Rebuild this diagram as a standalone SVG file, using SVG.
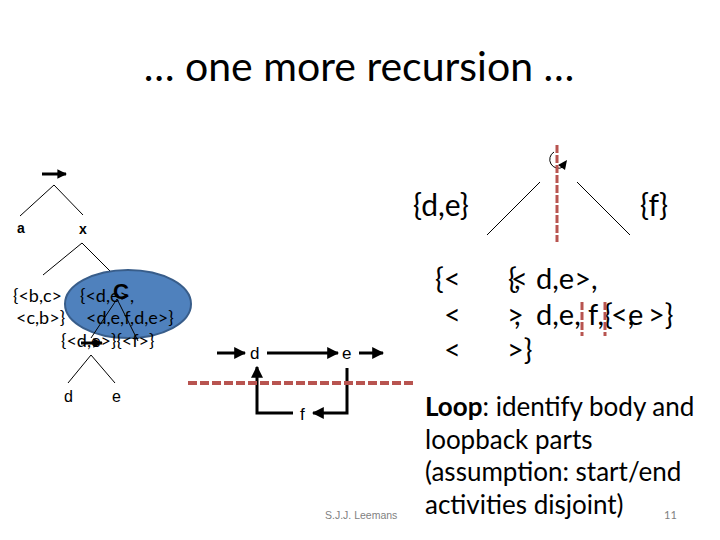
<svg xmlns="http://www.w3.org/2000/svg" width="720" height="540" viewBox="0 0 720 540">
<style>
.c{font-family:Lato,"Open Sans","Liberation Sans",sans-serif;fill:#000}
.s{font-family:"Liberation Sans",Arial,sans-serif;fill:#000}
.t{stroke:#000;stroke-width:1;fill:none}
.k{stroke:#000;stroke-width:3;fill:none}
.r{stroke:#b85450;stroke-width:4;stroke-dasharray:9,3;fill:none}
.rv{stroke:#b85450;stroke-width:3;stroke-dasharray:8,2;fill:none}
.big{font-size:29px}
.sm{font-size:18px}
</style>
<defs>
<marker id="ah" viewBox="0 0 10 10" refX="9" refY="5" markerWidth="3.2" markerHeight="3.2" orient="auto"><path d="M0,0L10,5L0,10z" fill="#000"/></marker>
<marker id="ah2" viewBox="0 0 10 10" refX="9" refY="5" markerWidth="4" markerHeight="4" orient="auto"><path d="M0,0L10,5L0,10z" fill="#000"/></marker>
</defs>
<rect width="720" height="540" fill="#fff"/>
<text class="c" x="359" y="81" font-size="41" text-anchor="middle">… one more recursion …</text>

<g id="left-tree">
<line x1="42" y1="174" x2="66" y2="174" class="k" stroke-width="4" marker-end="url(#ah)"/>
<line class="t" x1="54" y1="185" x2="20" y2="216"/>
<line class="t" x1="54" y1="185" x2="83" y2="215"/>
<text class="s" x="17" y="233" font-size="14" font-weight="bold">a</text>
<text class="s" x="79" y="234" font-size="14" font-weight="bold">x</text>
<line class="t" x1="82" y1="243" x2="43" y2="275"/>
<line class="t" x1="82" y1="243" x2="115" y2="276"/>
<text class="c sm" x="13" y="302">{&lt;b,c&gt;</text>
<text class="c sm" x="16" y="324">&lt;c,b&gt;}</text>
</g>
<g id="cut-ellipse">
<ellipse cx="128" cy="304" rx="63" ry="34" fill="#4f81bd" stroke="#385d8a" stroke-width="2"/>
<text class="c sm" x="80" y="302">{&lt;d,e&gt;,</text>
<text class="c sm" x="86" y="324">&lt;d,e,f,d,e&gt;}</text>
<text class="s" x="113" y="299" font-size="22" font-weight="bold">C</text>
<line class="t" x1="117" y1="299" x2="91" y2="338"/>
<line class="t" x1="117" y1="299" x2="138" y2="341"/>
<text class="c sm" x="61" y="347">{&lt;d,e&gt;}{&lt;f&gt;}</text>
<line x1="81" y1="343" x2="102" y2="343" class="k" stroke-width="4" marker-end="url(#ah)"/>
</g>
<g id="left-leaves">
<line class="t" x1="91" y1="355" x2="68" y2="383"/>
<line class="t" x1="91" y1="355" x2="115" y2="383"/>
<text class="s" x="64" y="402" font-size="16">d</text>
<text class="s" x="112" y="402" font-size="16">e</text>
</g>

<g id="process">
<text class="s" x="250" y="359" font-size="17">d</text>
<text class="s" x="342" y="359" font-size="17">e</text>
<text class="s" x="300" y="420" font-size="17">f</text>
</g>
<g id="connectors">
<line class="k" x1="217" y1="353" x2="245" y2="353" marker-end="url(#ah2)"/>
<line class="k" x1="267" y1="353" x2="338" y2="353" marker-end="url(#ah2)"/>
<line class="k" x1="359" y1="353" x2="383" y2="353" marker-end="url(#ah2)"/>
<polyline class="k" points="347,368 347,413 313,413" marker-end="url(#ah2)"/>
<polyline class="k" points="293,413 257,413 257,367" marker-end="url(#ah2)"/>
</g>
<line class="r" x1="188" y1="383" x2="416" y2="383"/>
<text class="s" x="325" y="519" font-size="10.5" style="fill:#7f7f7f">S.J.J. Leemans</text>

<g id="right-tree">
<path d="M554,152 A8,8 0 1 0 563,167" class="t" stroke-width="2"/>
<path d="M558,165 L567,160 L565,170 z" fill="#000"/>
<line class="rv" x1="557" y1="145" x2="557" y2="242"/>
<line class="t" x1="540" y1="182" x2="487" y2="235" stroke-width="1.5"/>
<line class="t" x1="577" y1="182" x2="630" y2="235" stroke-width="1.5"/>
<text class="c" x="413" y="216" font-size="30">{d,e}</text>
<text class="c" x="640" y="216" font-size="30">{f}</text>
</g>
<g id="right-traces">
<text class="c big" x="435" y="289">{&lt;</text>
<text class="c big" x="444" y="325">&lt;</text>
<text class="c big" x="444" y="360">&lt;</text>
<text class="c big" x="508" y="289">{</text>
<text class="c big" x="511" y="289">&lt;</text>
<text class="c big" x="514" y="289">,</text>
<text class="c big" x="536" y="289">d,e&gt;,</text>
<text class="c big" x="507" y="325">&gt;</text>
<text class="c big" x="514" y="325">,</text>
<text class="c big" x="536" y="325">d,e,</text>
<text class="c big" x="588" y="325">f,</text>
<text class="c big" x="604" y="325">{</text>
<text class="c big" x="611" y="325">&lt;,</text>
<text class="c big" x="628" y="325">e</text>
<text class="c big" x="648" y="325">&gt;}</text>
<text class="c big" x="507" y="360">&gt;}</text>
<line class="rv" x1="582" y1="302" x2="582" y2="336" stroke-width="2.5"/>
<line class="rv" x1="605" y1="302" x2="605" y2="336" stroke-width="2.5"/>
</g>

<g id="caption">
<text class="c" x="425" y="416" font-size="26"><tspan font-weight="bold">Loop</tspan>: identify body and</text>
<text class="c" x="425" y="449" font-size="26">loopback parts</text>
<text class="c" x="425" y="481" font-size="26">(assumption: start/end</text>
<text class="c" x="425" y="514" font-size="26">activities disjoint)</text>
<text class="c" x="664" y="519" font-size="11" style="fill:#7f7f7f">11</text>
</g>
</svg>
